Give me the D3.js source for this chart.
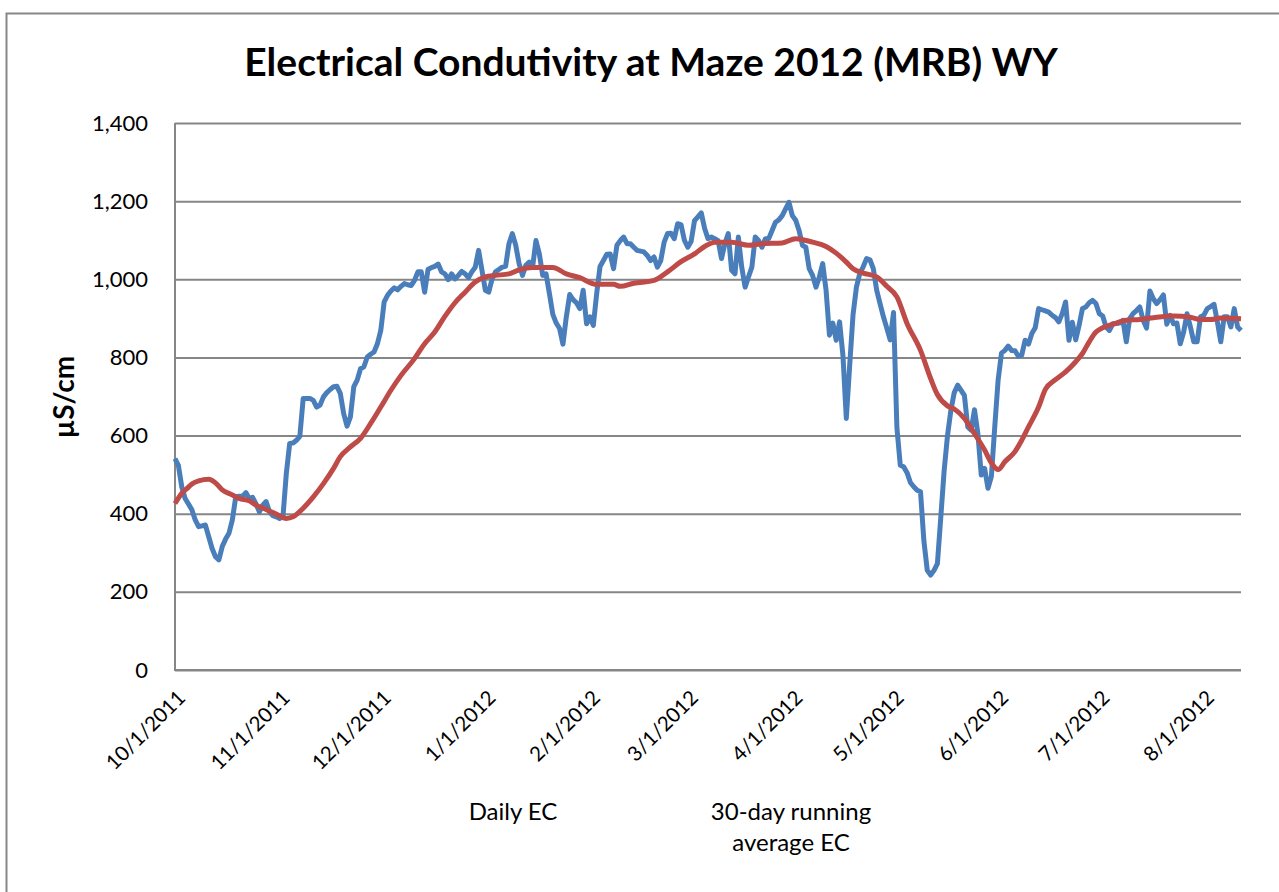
<!DOCTYPE html>
<html lang="en">
<head>
<meta charset="utf-8">
<title>Electrical Condutivity at Maze 2012 (MRB) WY</title>
<script src="https://d3js.org/d3.v7.min.js"></script>
<style>
  body { margin: 0; background: #fff; }
  text { font-family: Lato, "Open Sans", sans-serif; fill: #000; }
  .grid line { stroke: #868686; stroke-width: 2; }
  .grid .domain { display: none; }
</style>
</head>
<body>
<script>
// start of the water year, values are keyed by day offset from it
var startDate = new Date(2011, 9, 1);
var endDate = new Date(2012, 7, 12);

var yTicks = [0, 200, 400, 600, 800, 1000, 1200, 1400];

// daily EC
var dailyDay = [0,1,2,3,4,5,6,7,8,9,10,11,12,13,14,15,16,17,18,19,20,21,22,23,24,25,26,27,28,29,
  30,31,32,33,34,35,36,37,38,39,40,41,42,43,44,45,46,47,48,49,50,51,52,53,54,55,56,57,58,59,
  60,61,62,63,64,65,66,67,68,69,70,71,72,73,74,75,76,77,78,79,80,81,82,83,84,85,86,87,88,89,
  90,91,92,93,94,95,96,97,98,99,100,101,102,103,104,105,106,107,108,109,110,111,112,113,114,115,116,117,118,119,
  120,121,122,123,124,125,126,127,128,129,130,131,132,133,134,135,136,137,138,139,140,141,142,143,144,145,146,147,148,149,
  150,151,152,153,154,155,156,157,158,159,160,161,162,163,164,165,166,167,168,169,170,171,172,173,174,175,176,177,178,179,
  180,181,182,183,184,185,186,187,188,189,190,191,192,193,194,195,196,197,198,199,200,201,202,203,204,205,206,207,208,209,
  210,211,212,213,214,215,216,217,218,219,220,221,222,223,224,225,226,227,228,229,230,231,232,233,234,235,236,237,238,239,
  240,241,242,243,244,245,246,247,248,249,250,251,252,253,254,255,256,257,258,259,260,261,262,263,264,265,266,267,268,269,
  270,271,272,273,274,275,276,277,278,279,280,281,282,283,284,285,286,287,288,289,290,291,292,293,294,295,296,297,298,299,
  300,301,302,303,304,305,306,307,308,309,310,311,312,313,314,315,316];
var dailyEC = [541,524,469,439,425,410,384,367,369,371,341,311,290,282,316,335,350,384,443,445,445,454,439,442,425,405,422,431,405,395,
  392,388,392,503,580,581,588,598,695,695,695,690,673,678,699,710,718,725,726,708,656,624,648,725,742,771,776,801,808,814,
  835,869,942,959,970,978,973,982,989,986,984,997,1019,1019,967,1025,1030,1033,1039,1019,1014,999,1014,1001,1010,1020,1014,1004,1019,1031,
  1074,1023,972,967,1001,1019,1025,1031,1033,1091,1117,1087,1040,1010,1036,1044,1031,1099,1065,1010,1014,963,910,888,874,834,904,961,948,940,
  925,972,886,904,882,963,1033,1048,1064,1065,1027,1087,1099,1108,1091,1091,1082,1074,1072,1070,1061,1048,1057,1031,1048,1095,1117,1118,1104,1142,
  1140,1100,1082,1097,1150,1160,1170,1130,1104,1108,1104,1099,1053,1091,1117,1023,1014,1108,1031,980,1006,1031,1108,1099,1082,1104,1104,1125,1146,1152,
  1163,1180,1197,1163,1151,1125,1087,1082,1027,1010,980,1006,1040,972,857,888,844,891,805,644,780,910,980,1015,1032,1053,1050,1027,972,938,
  904,875,845,915,620,524,520,505,480,469,460,456,330,255,243,255,272,390,510,600,665,710,729,716,703,622,614,666,605,499,
  516,465,495,622,742,811,818,829,818,817,803,806,844,834,861,876,925,922,919,916,908,902,891,912,942,844,890,845,882,925,
  929,940,946,938,912,906,878,869,886,887,888,895,840,899,912,920,929,895,875,970,950,938,948,960,885,908,886,888,835,865,
  912,878,840,840,904,908,925,930,936,891,840,904,904,878,925,878,869];

// 30-day running average EC
var avgDay = [0,2,4,5,7,10,12,14,17,19,22,24,27,30,33,35,38,41,44,47,49,52,55,58,61,64,67,71,74,77,
  80,83,86,89,92,95,99,102,106,112,116,120,125,130,132,136,142,146,150,154,157,160,165,170,174,180,184,189,193,196,
  199,201,204,208,211,214,217,221,224,226,229,231,234,237,240,242,244,246,249,251,253,256,258,261,264,267,269,271,273,275,
  278,282,286,291,296,301,304,307,310,316];
var avgEC = [426,452,468,476,484,488,479,461,448,439,433,422,411,399,388,392,414,443,477,516,546,571,593,631,673,716,754,797,835,865,
  905,940,967,993,1006,1010,1014,1024,1030,1030,1014,1004,987,987,982,990,997,1019,1045,1065,1084,1095,1095,1087,1091,1093,1104,1095,1084,1067,
  1044,1027,1016,1006,982,955,887,818,746,705,676,668,644,605,563,530,513,533,559,588,622,673,718,743,763,789,810,840,865,876,
  885,895,897,903,906,903,897,897,901,899];

var seriesNames = ["Daily EC", "30-day running", "average EC"];

var width = 1279;
var height = 892;

var svg = d3.select('body')
  .append('svg')
  .attr('width', width)
  .attr('height', height);

// outer chart border (runs off the right and bottom of the picture)
svg.append('rect')
  .attr('x', 6.5)
  .attr('y', 13.5)
  .attr('width', 1290)
  .attr('height', 900)
  .attr('fill', 'none')
  .attr('stroke', '#878787')
  .attr('stroke-width', 2);

var x = d3.scaleTime()
  .domain([startDate, endDate])
  .range([175, 1241]);

var y = d3.scaleLinear()
  .domain([0, 1400])
  .range([670, 123]);

// horizontal gridlines
svg.append('g')
  .attr('class', 'grid')
  .attr('transform', 'translate(175,0)')
  .call(d3.axisLeft(y).tickValues(yTicks).tickSize(-1066).tickFormat(''));

// y labels
var yAxis = svg.append('g')
  .attr('transform', 'translate(175,0)')
  .call(d3.axisLeft(y).tickValues(yTicks).tickSize(0).tickPadding(27).tickFormat(d3.format(',')));
yAxis.select('.domain').remove();
yAxis.selectAll('text').style('font-size', '22px');

// axis lines
svg.append('line')
  .attr('x1', 175).attr('x2', 175).attr('y1', 123).attr('y2', 671)
  .attr('stroke', '#868686').attr('stroke-width', 2);
svg.append('line')
  .attr('x1', 174).attr('x2', 1241).attr('y1', 670).attr('y2', 670)
  .attr('stroke', '#868686').attr('stroke-width', 2);

// x labels, one per month, rotated
var xAxis = svg.append('g')
  .attr('transform', 'translate(0,670)')
  .call(d3.axisBottom(x)
    .ticks(d3.timeMonth.every(1))
    .tickSize(0)
    .tickFormat(d3.timeFormat('%-m/%-d/%Y')));
xAxis.select('.domain').remove();
xAxis.selectAll('text')
  .attr('x', 0)
  .attr('y', 0)
  .attr('dy', '0.35em')
  .attr('text-anchor', 'end')
  .attr('transform', 'translate(6,24) rotate(-45)')
  .style('font-size', '20.5px');

function dayDate(d) {
  return d3.timeDay.offset(startDate, d);
}

var dailyLine = d3.line()
  .x(function(d, i) { return x(dayDate(dailyDay[i])); })
  .y(function(d) { return y(d); });

var avgLine = d3.line()
  .curve(d3.curveMonotoneX)
  .x(function(d, i) { return x(dayDate(avgDay[i])); })
  .y(function(d) { return y(d); });

svg.append('path')
  .datum(dailyEC)
  .attr('fill', 'none')
  .attr('stroke', '#4a7ebb')
  .attr('stroke-width', 5)
  .attr('stroke-linejoin', 'round')
  .attr('d', dailyLine);

svg.append('path')
  .datum(avgEC)
  .attr('fill', 'none')
  .attr('stroke', '#be4b48')
  .attr('stroke-width', 5)
  .attr('stroke-linejoin', 'round')
  .attr('d', avgLine);

// title
svg.append('text')
  .attr('x', 651)
  .attr('y', 76)
  .attr('text-anchor', 'middle')
  .style('font-size', '39px')
  .style('font-weight', 'bold')
  .text('Electrical Condutivity at Maze 2012 (MRB) WY');

// y axis title
svg.append('text')
  .attr('transform', 'translate(63,397) rotate(-90)')
  .attr('text-anchor', 'middle')
  .attr('dominant-baseline', 'central')
  .style('font-size', '28px')
  .style('font-weight', 'bold')
  .text('µS/cm');

// legend (text only, as in the source)
svg.append('text')
  .attr('x', 513).attr('y', 820)
  .attr('text-anchor', 'middle')
  .style('font-size', '24px')
  .text(seriesNames[0]);
svg.append('text')
  .attr('x', 791).attr('y', 820)
  .attr('text-anchor', 'middle')
  .style('font-size', '24px')
  .text(seriesNames[1]);
svg.append('text')
  .attr('x', 791).attr('y', 851)
  .attr('text-anchor', 'middle')
  .style('font-size', '24px')
  .text(seriesNames[2]);
</script>
</body>
</html>
